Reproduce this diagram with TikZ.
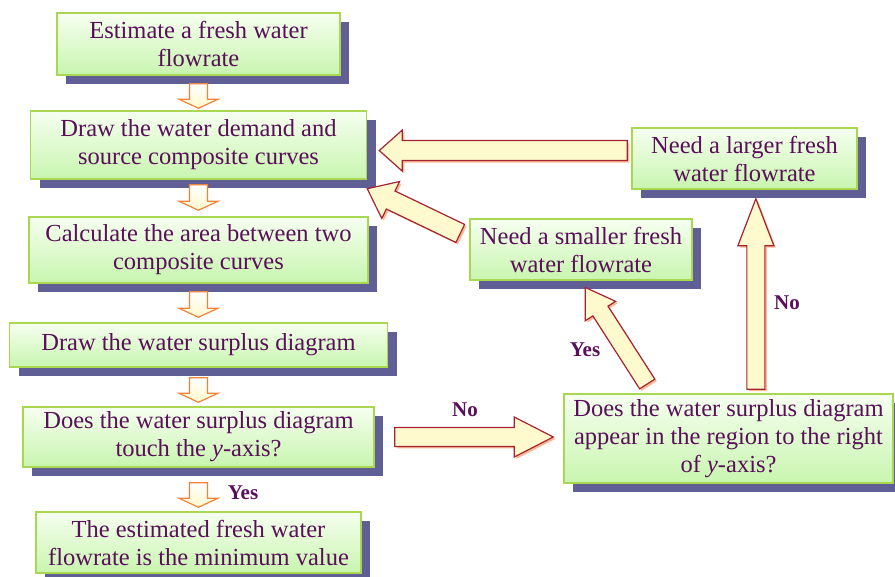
\documentclass[tikz,border=0pt]{standalone}
\usepackage{fontspec}
\setmainfont{Liberation Serif}
\usetikzlibrary{positioning, calc, shadows}
\definecolor{textpurple}{RGB}{90,15,90}
\definecolor{boxborder}{RGB}{170,215,80}
\definecolor{boxtop}{RGB}{246,255,240}
\definecolor{boxbottom}{RGB}{200,245,175}
\definecolor{shadowblue}{RGB}{95,95,150}
\definecolor{arrowred}{RGB}{165,35,50}
\definecolor{arroworange}{RGB}{240,130,60}
\definecolor{cream}{RGB}{255,250,205}

\tikzset{
  stepbox/.style={draw=boxborder, line width=1.5pt, top color=boxtop,
    bottom color=boxbottom, text=textpurple, align=center, inner sep=0pt,
    font=\fontsize{24.5}{28}\selectfont,
    drop shadow={shadow xshift=9pt, shadow yshift=-9pt, fill=shadowblue, opacity=1}},
  answer/.style={text=textpurple, font=\fontsize{21}{24}\selectfont\bfseries},
  smallarr/.style={draw=arroworange, line width=1.2pt, top color=white, bottom color=cream},
  bigarr/.style={draw=arrowred, line width=1.2pt, fill=cream,
    drop shadow={shadow xshift=2pt, shadow yshift=-2pt, fill=arroworange!70, opacity=0.8}},
}

% block arrow: style, from, to, gap at from, gap at to
\newcommand{\blockarrow}[5]{%
  \coordinate (bt) at ($(#2)!#4!(#3)$);
  \coordinate (bh) at ($(#3)!#5!(#2)$);
  \coordinate (bb) at ($(bh)!\headl!(bt)$);
  \draw[#1] ($(bt)!\shaftw!90:(bh)$) -- ($(bb)!\shaftw!-90:(bt)$)
    -- ($(bb)!\headw!-90:(bt)$) -- (bh) -- ($(bb)!\headw!90:(bt)$)
    -- ($(bb)!\shaftw!90:(bt)$) -- ($(bt)!\shaftw!-90:(bh)$) -- cycle;
}

\begin{document}
\begin{tikzpicture}[x=1pt, y=-1pt]
  \useasboundingbox (0,0) rectangle (895,577);

  % main column
  \node[stepbox, minimum width=283, minimum height=62] (est) at (198.5,44)
    {Estimate a fresh water\\flowrate};
  \node[stepbox, minimum width=336, minimum height=68] (drawcc) at (198.5,145)
    {Draw the water demand and\\source composite curves};
  \node[stepbox, minimum width=339, minimum height=66] (area) at (198.5,250)
    {Calculate the area between two\\composite curves};
  \node[stepbox, minimum width=378, minimum height=44] (surplus) at (198.5,345)
    {Draw the water surplus diagram};
  \node[stepbox, minimum width=351, minimum height=60] (touch) at (198.5,437)
    {Does the water surplus diagram\\touch the \textit{y}-axis?};
  \node[stepbox, minimum width=325, minimum height=61] (minval) at (198.5,542.5)
    {The estimated fresh water\\flowrate is the minimum value};

  % right side
  \node[stepbox, minimum width=225, minimum height=61] (larger) at (744.5,158.5)
    {Need a larger fresh\\water flowrate};
  \node[stepbox, minimum width=222, minimum height=61] (smaller) at (581,249.5)
    {Need a smaller fresh\\water flowrate};
  \node[stepbox, minimum width=329, minimum height=89] (region) at (728.5,438.5)
    {Does the water surplus diagram\\appear in the region to the right\\of \textit{y}-axis?};

  % small down arrows
  \def\shaftw{9pt}\def\headw{19.5pt}\def\headl{9pt}
  \blockarrow{smallarr}{est.south}{drawcc.north}{8pt}{2pt}
  \blockarrow{smallarr}{drawcc.south}{area.north}{5pt}{6pt}
  \blockarrow{smallarr}{area.south}{surplus.north}{8pt}{5pt}
  \blockarrow{smallarr}{surplus.south}{touch.north}{10pt}{4pt}
  \blockarrow{smallarr}{touch.south}{minval.north}{15pt}{4pt}

  % big arrows
  \def\shaftw{10pt}\def\headw{20.5pt}\def\headl{23pt}
  \blockarrow{bigarr}{larger.176}{larger.176 -| drawcc.east}{4pt}{12pt}
  \coordinate (ddcorner) at ($(drawcc.south east)+(0,9)$);
  \def\headl{26pt}
  \blockarrow{bigarr}{smaller.174}{ddcorner}{10pt}{0pt}
  \def\shaftw{9pt}\def\headw{18pt}\def\headl{28pt}
  \blockarrow{bigarr}{region.149}{smaller.south}{11pt}{8pt}
  \def\shaftw{9pt}\def\headw{18pt}\def\headl{47pt}
  \blockarrow{bigarr}{region.north -| larger.-70}{larger.-70}{4pt}{9pt}
  \def\shaftw{9.5pt}\def\headw{20pt}\def\headl{39pt}
  \blockarrow{bigarr}{touch.east}{touch.east -| region.west}{20pt}{10pt}

  % answers
  \node[answer] (yesdown) at (243,493) {Yes};
  \node[answer] (noright) at (465,410) {No};
  \node[answer] (yesup) at (585,350) {Yes};
  \node[answer] (noup) at (787,303) {No};
\end{tikzpicture}
\end{document}
